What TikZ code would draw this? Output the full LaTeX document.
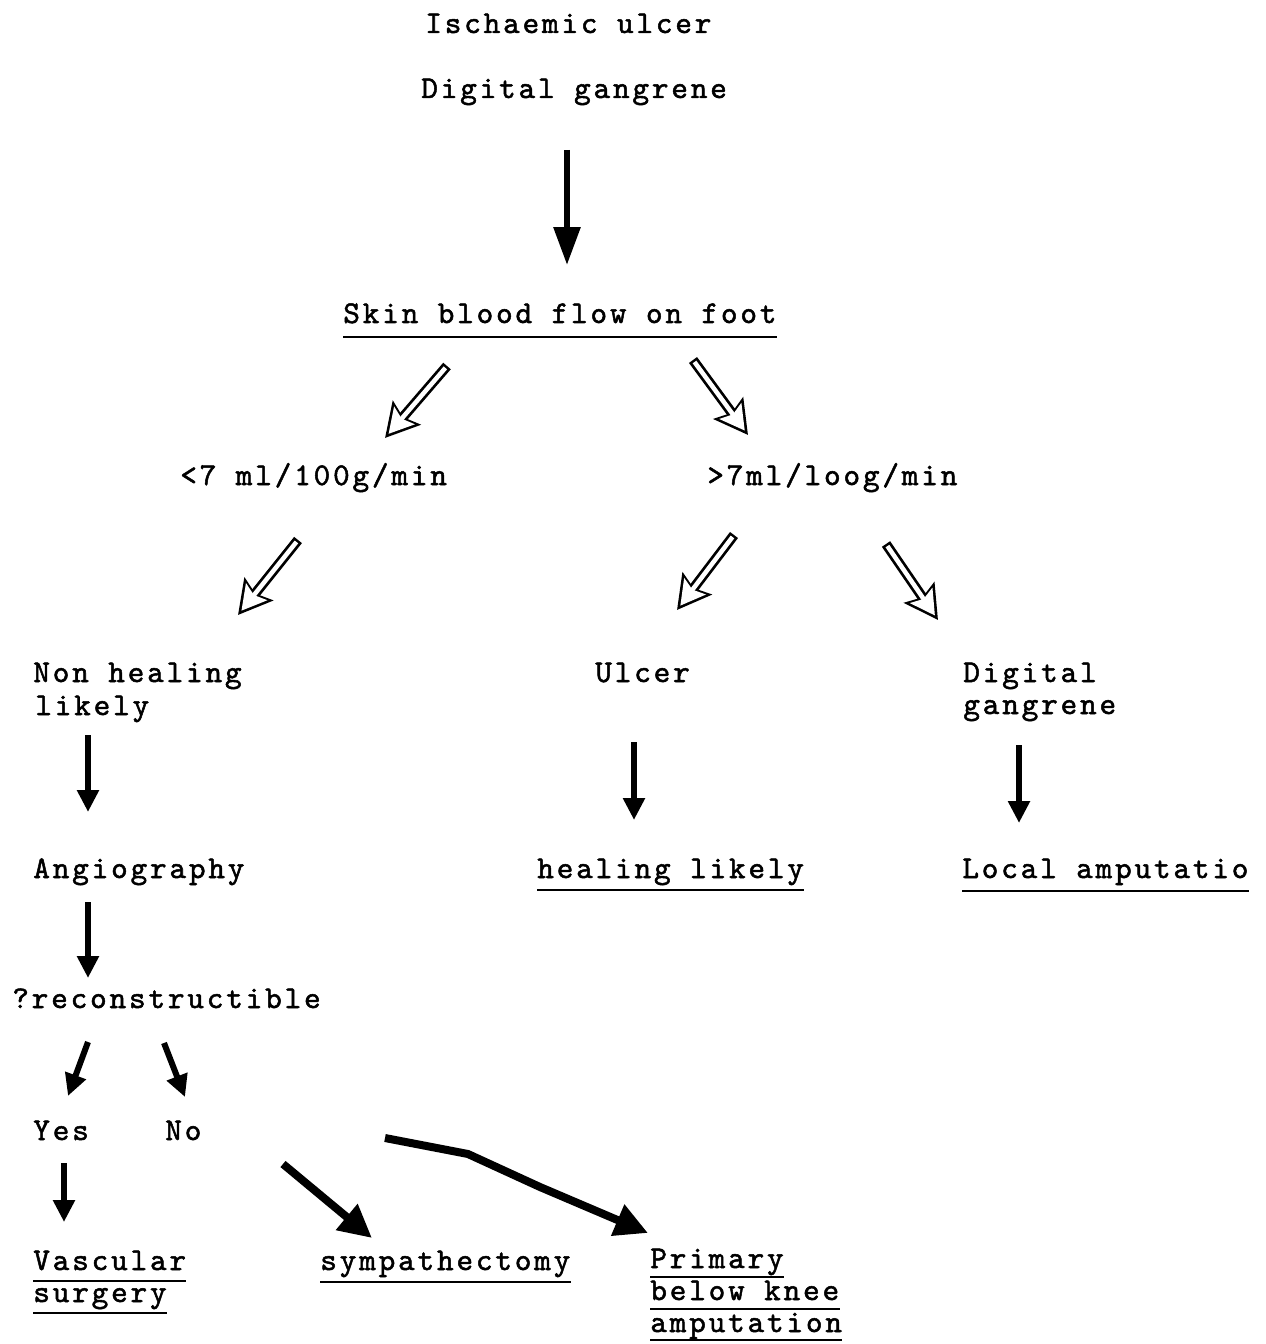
\documentclass[tikz,border=0pt]{standalone}
\usepackage{fontspec}
\usepackage{tikz}
\usetikzlibrary{arrows.meta}
\newfontfamily\tw{lmmono10-regular.otf}[FakeBold=1.6,LetterSpace=9]

\begin{document}
\begin{tikzpicture}[x=0.02cm,y=-0.02cm,line cap=butt]
    \tikzstyle{lbl}=[font=\tw\fontsize{18}{19}\selectfont,inner sep=0pt,anchor=base west]
    \tikzstyle{uline}=[line width=0.05cm]
    \tikzstyle{blk}=[-{Triangle[length=0.44cm,width=0.42cm]},line width=0.12cm]
    \tikzstyle{heavy}=[-{Triangle[length=0.66cm,width=0.64cm]},line width=0.16cm]
    \tikzstyle{hollowout}=[-{Stealth[length=0.66cm,width=0.72cm,inset=0.11cm]},line width=0.2cm]
    \tikzstyle{hollowin}=[-{Stealth[length=0.48cm,width=0.53cm,inset=0.08cm]},white,line width=0.09cm,shorten <=0.05cm,shorten >=0.11cm]

    \useasboundingbox (0,0) rectangle (1266,1344);

    % texts
    \node[lbl] (isch)    at (425,33)   {Ischaemic ulcer};
    \node[lbl] (diggang) at (421,98)   {Digital gangrene};
    \node[lbl] (skin)    at (343,323)  {Skin blood flow on foot};
    \node[lbl] (low)     at (180,485)  {<7 ml/100g/min};
    \node[lbl] (high)    at (707,485)  {>7ml/loog/min};
    \node[lbl] (nonheal) at (33,682)   {Non healing};
    \node[lbl] (likely)  at (35,715)   {likely};
    \node[lbl] (ulcer)   at (595,682)  {Ulcer};
    \node[lbl] (dig)     at (963,682)  {Digital};
    \node[lbl] (gang)    at (963,714)  {gangrene};
    \node[lbl] (angio)   at (33,878)   {Angiography};
    \node[lbl] (heal)    at (537,878)  {healing likely};
    \node[lbl] (local)   at (962,878)  {Local amputatio};
    \node[lbl] (recon)   at (12,1008)  {?reconstructible};
    \node[lbl] (yes)     at (33,1140)  {Yes};
    \node[lbl] (no)      at (165,1140) {No};
    \node[lbl] (vasc)    at (33,1270)  {Vascular};
    \node[lbl] (surg)    at (33,1302)  {surgery};
    \node[lbl] (symp)    at (320,1270) {sympathectomy};
    \node[lbl] (prim)    at (650,1268) {Primary};
    \node[lbl] (below)   at (650,1300) {below knee};
    \node[lbl] (amput)   at (650,1332) {amputation};

    % underlines
    \foreach \n/\d in {skin/0.28cm,heal/0.24cm,local/0.26cm,vasc/0.22cm,surg/0.22cm,symp/0.24cm,prim/0.18cm,below/0.18cm,amput/0.16cm}
        \draw[uline] ([yshift=-\d]\n.base west) -- ([yshift=-\d]\n.base east);

    % arrow ends
    \coordinate (a1) at (567,150);  \coordinate (a2) at (567,265);
    \coordinate (h1) at (447,366);  \coordinate (h2) at (385,438);
    \coordinate (h3) at (693,360);  \coordinate (h4) at (748,435);
    \coordinate (h5) at (298,540);  \coordinate (h6) at (238,615);
    \coordinate (h7) at (734,535);  \coordinate (h8) at (677,610);
    \coordinate (h9) at (886,544);  \coordinate (h10) at (938,620);
    \coordinate (b1) at (88,735);   \coordinate (b2) at (88,812);
    \coordinate (c1) at (634,742);  \coordinate (c2) at (634,820);
    \coordinate (d1) at (1019,745); \coordinate (d2) at (1019,823);
    \coordinate (e1) at (88,902);   \coordinate (e2) at (88,978);
    \coordinate (y1) at (88,1042);  \coordinate (y2) at (68,1096);
    \coordinate (n1) at (164,1043); \coordinate (n2) at (185,1097);
    \coordinate (v1) at (64,1163);  \coordinate (v2) at (64,1222);
    \coordinate (s1) at (283,1164); \coordinate (s2) at (372,1238);
    \coordinate (p1) at (385,1138); \coordinate (p2) at (468,1154);
    \coordinate (p3) at (540,1187); \coordinate (p4) at (648,1233);

    % black arrows
    \draw[blk,-{Triangle[length=0.76cm,width=0.52cm]}] (a1) -- (a2);
    \foreach \s/\e in {b1/b2,c1/c2,d1/d2,e1/e2,y1/y2,n1/n2,v1/v2}
        \draw[blk] (\s) -- (\e);
    \draw[heavy] (s1) -- (s2);
    \draw[heavy,line join=round] (p1) -- (p2) -- (p3) -- (p4);

    % open arrows
    \foreach \s/\e in {h1/h2,h3/h4,h5/h6,h7/h8,h9/h10} {
        \draw[hollowout] (\s) -- (\e);
        \draw[hollowin] (\s) -- (\e);
    }
\end{tikzpicture}
\end{document}
